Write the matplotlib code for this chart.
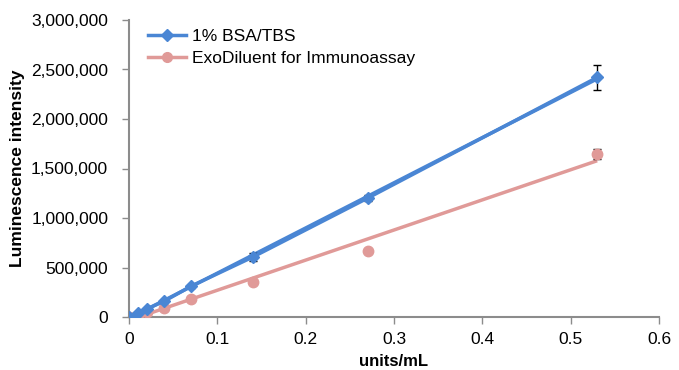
import matplotlib
matplotlib.use("Agg")
import matplotlib.pyplot as plt
import numpy as np
from matplotlib.lines import Line2D
from matplotlib.ticker import FuncFormatter

plt.rcParams["font.family"] = ["Liberation Sans", "DejaVu Sans"]

conc = [0, 0.01, 0.02, 0.04, 0.07, 0.14, 0.27, 0.53]
bsa = [0, 45000, 80000, 160000, 310000, 605000, 1200000, 2420000]
bsa_err = [0, 5000, 8000, 10000, 15000, 40000, 30000, 130000]
exo = [0, 25000, 50000, 95000, 180000, 350000, 665000, 1650000]
exo_err = [0, 3000, 5000, 5000, 10000, 15000, 15000, 50000]
labels = ["1% BSA/TBS", "ExoDiluent for Immunoassay"]

blue = "#4a86d4"
pink = "#e09a98"

fig = plt.figure(figsize=(6.79, 3.70), dpi=100)
ax = fig.add_axes([129 / 679, 1 - 317 / 370, (659 - 129) / 679, (317 - 20) / 370])

x = np.array(conc)
xfit = np.array([0, max(conc)])

# linear trendlines
for ys, c in [(exo, pink), (bsa, blue)]:
    k, b = np.polyfit(x, ys, 1)
    ax.plot(xfit, k * xfit + b, color=c, lw=2.5, zorder=2, solid_capstyle="butt")

ax.errorbar(conc, exo, yerr=exo_err, fmt="o", color=pink, ms=7.5, ecolor="black",
            elinewidth=1, capsize=3, zorder=3)
ax.errorbar(conc, bsa, yerr=bsa_err, fmt="D-", color=blue, ms=6, lw=2.5, ecolor="black",
            elinewidth=1, capsize=3, zorder=4)

ax.set_xlim(0, 0.6)
ax.set_ylim(0, 3000000)
ax.set_xticks(np.arange(0, 0.61, 0.1))
ax.set_yticks(np.arange(0, 3000001, 500000))
ax.xaxis.set_major_formatter(FuncFormatter(lambda v, p: "0" if v == 0 else f"{v:g}"))
ax.yaxis.set_major_formatter(FuncFormatter(lambda v, p: f"{int(v):,}"))

for s in ["top", "right"]:
    ax.spines[s].set_visible(False)
for s in ["left", "bottom"]:
    ax.spines[s].set_color("#8c8c8c")
    ax.spines[s].set_linewidth(1.5)
ax.tick_params(colors="#8c8c8c", labelcolor="black", labelsize=12.5, length=5, width=1)
ax.tick_params(axis="y", pad=10)
ax.tick_params(axis="x", pad=6)

ax.set_xlabel("units/mL", fontsize=12, fontweight="bold", labelpad=5)
ax.set_ylabel("Luminescence intensity", fontsize=12.5, fontweight="bold", labelpad=4)

handles = [
    Line2D([], [], color=blue, lw=2.5, marker="D", ms=6),
    Line2D([], [], color=pink, lw=2.5, marker="o", ms=7),
]
ax.legend(handles, labels, loc="upper left", bbox_to_anchor=(136 / 679, 1 - 17 / 370),
          bbox_transform=fig.transFigure, frameon=False, fontsize=12.5,
          handlelength=2.2, handletextpad=0.35, labelspacing=0.4, borderpad=0.2)

fig.savefig("out.png", dpi=100)
